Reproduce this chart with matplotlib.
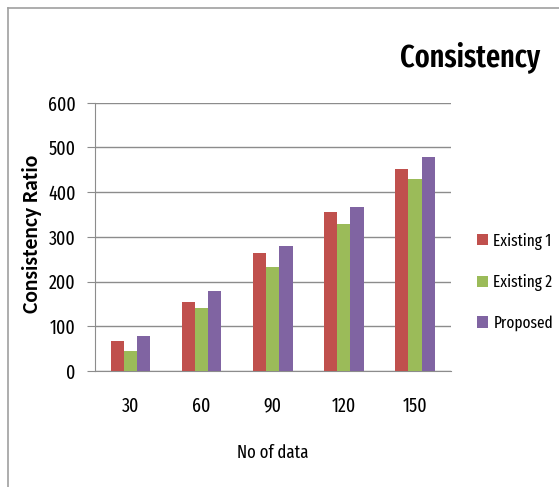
import numpy as np
import matplotlib
matplotlib.use("Agg")
from matplotlib import pyplot as plt
from matplotlib.lines import Line2D

categories = ["30", "60", "90", "120", "150"]
existing_1 = [68, 154, 265, 355, 451]
existing_2 = [45, 142, 232, 329, 430]
proposed = [79, 178, 280, 367, 478]
series_names = ["Existing 1", "Existing 2", "Proposed"]
yticks = [0, 100, 200, 300, 400, 500, 600]

colors = ["#C0504D", "#9BBB59", "#8064A2"]
plt.rcParams["font.family"] = ["Fira Sans Extra Condensed", "Carlito", "DejaVu Sans"]


def main():
    fig = plt.figure(figsize=(5.59, 4.87), dpi=100)
    ax = fig.add_axes([0.170, 0.238, 0.636, 0.551])

    x = np.arange(len(categories))
    w = 0.185
    for i, vals in enumerate([existing_1, existing_2, proposed]):
        ax.bar(x + (i - 1) * w, vals, w, color=colors[i], label=series_names[i], zorder=3)

    ax.set_xlim(-0.5, len(categories) - 0.5)
    ax.set_ylim(0, 600)
    ax.set_yticks(yticks)
    ax.set_xticks(x)
    ax.set_xticklabels(categories)
    ax.yaxis.grid(True, color="#8c8c8c", linewidth=1.0, zorder=0)
    for s in ["top", "right"]:
        ax.spines[s].set_visible(False)
    ax.spines["left"].set_color("#8c8c8c")
    ax.spines["bottom"].set_color("#8c8c8c")
    ax.tick_params(axis="y", length=6, color="#8c8c8c", labelsize=14, pad=8)
    ax.tick_params(axis="x", length=0, labelsize=14, pad=18)

    ax.set_xlabel("No of data", fontsize=13)
    ax.xaxis.set_label_coords(0.5, -0.27)
    # the y label is wide, not narrow, in the picture
    ax.set_ylabel("Consistency Ratio", fontsize=15.5, fontweight="bold",
                  family=["Carlito", "DejaVu Sans"])
    ax.yaxis.set_label_coords(-0.15, 0.51)

    fig.text(0.966, 0.883, "Consistency", fontsize=22, fontweight="semibold",
             ha="right", va="center")

    ax.legend(loc="center left", bbox_to_anchor=(0.853, 0.421),
              bbox_transform=fig.transFigure, frameon=False, borderpad=0,
              borderaxespad=0, fontsize=12, handlelength=0.65, handleheight=0.65,
              handletextpad=0.35, labelspacing=1.45)

    # outer frame lines (top and left only)
    fig.add_artist(Line2D([8 / 559, 1.0], [1 - 8 / 487, 1 - 8 / 487], color="#a0a0a0", lw=1.2))
    fig.add_artist(Line2D([8 / 559, 8 / 559], [0, 1 - 8 / 487], color="#a0a0a0", lw=1.2))

    fig.savefig("out.png", dpi=100)


if __name__ == "__main__":
    main()
